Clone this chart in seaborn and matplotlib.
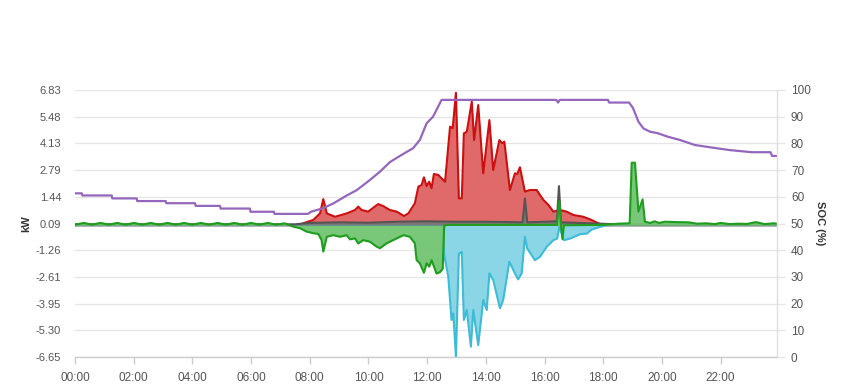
import matplotlib
matplotlib.use("Agg")
import matplotlib.pyplot as plt
import seaborn as sns
import pandas as pd

# ---------------- data (hours of day, kW / %) ----------------
soc_t = [0.0, 0.23, 0.25, 1.25, 1.27, 2.1, 2.12, 3.09, 3.11, 4.09, 4.11, 4.94, 4.96,
         5.96, 5.98, 6.78, 6.8, 7.94, 8.04, 8.45, 8.8, 9.26, 9.6, 10.05, 10.4, 10.73,
         11.1, 11.52, 11.75, 11.98, 12.2, 12.49, 16.4, 16.46, 16.52, 18.16, 18.2,
         18.88, 19.01, 19.2, 19.37, 19.59, 19.86, 20.2, 20.61, 21.12, 21.73, 22.31,
         23.06, 23.7, 23.75, 23.92]
soc_v = [61.3, 61.3, 60.5, 60.5, 59.4, 59.4, 58.4, 58.4, 57.6, 57.6, 56.6, 56.6, 55.6,
         55.6, 54.4, 54.4, 53.6, 53.6, 54.4, 55.7, 57.5, 60.5, 62.5, 66.3, 69.5, 73.0,
         75.5, 78.2, 81.3, 87.5, 90.0, 96.3, 96.3, 95.3, 96.3, 96.3, 95.3,
         95.3, 93.3, 88.1, 85.6, 84.4, 83.8, 82.5, 81.3, 79.4, 78.4, 77.5,
         76.7, 76.7, 75.3, 75.3]

red_t = [0.0, 7.5, 7.67, 8.12, 8.35, 8.46, 8.58, 8.86, 9.26, 9.54, 9.65, 9.77, 9.99,
         10.33, 10.5, 10.73, 10.96, 11.21, 11.36, 11.58, 11.7, 11.81, 11.89, 11.98,
         12.07, 12.15, 12.23, 12.38, 12.49, 12.61, 12.78, 12.87, 12.98, 13.08, 13.18,
         13.25, 13.35, 13.52, 13.6, 13.74, 13.91, 14.12, 14.25, 14.46, 14.56, 14.63,
         14.82, 14.99, 15.07, 15.16, 15.33, 15.5, 15.73, 15.96, 16.13, 16.3, 16.52,
         16.75, 16.98, 17.32, 17.6, 17.83, 18.0, 23.92]
red_v = [0.0, 0.0, 0.05, 0.27, 0.6, 1.32, 0.6, 0.43, 0.6, 0.77, 0.94, 0.77, 0.69,
         1.07, 0.97, 0.77, 0.69, 0.47, 0.6, 1.11, 1.95, 2.03, 2.42, 1.98,
         2.2, 1.87, 2.59, 2.54, 2.37, 2.2, 4.98, 4.9, 6.69, 1.36, 1.36,
         4.64, 4.72, 6.24, 4.3, 6.07, 2.62, 5.31, 2.79, 4.3, 4.14, 4.22,
         1.78, 2.62, 2.59, 2.93, 1.7, 1.78, 1.78, 1.28, 1.03, 0.69, 0.77,
         0.69, 0.52, 0.43, 0.27, 0.1, 0.0, 0.0]

gray_t = [0.0, 7.5, 8.0, 9.0, 10.0, 11.0, 12.0, 13.0, 14.0, 15.25, 15.33, 15.41,
          16.42, 16.49, 16.56, 17.5, 18.5, 23.92]
gray_v = [0.05, 0.05, 0.12, 0.15, 0.13, 0.18, 0.2, 0.18, 0.18, 0.15, 1.36, 0.15,
          0.2, 1.98, 0.15, 0.1, 0.05, 0.05]

cyan_t = [0.0, 12.5, 12.55, 12.57, 12.72, 12.83, 12.89, 12.98, 13.08, 13.18, 13.25,
          13.35, 13.49, 13.57, 13.74, 13.91, 14.03, 14.12, 14.25, 14.48, 14.59, 14.8,
          14.99, 15.1, 15.22, 15.33, 15.41, 15.67, 15.84, 16.07, 16.3, 16.43, 16.5,
          16.66, 16.87, 17.21, 17.44, 17.6, 17.89, 18.12, 23.92]
cyan_v = [0.0, 0.0, -0.25, -1.42, -2.6, -4.78, -4.45, -6.64, -1.43, -1.35, -4.78,
          -4.28, -6.13, -4.28, -6.05, -3.77, -4.28, -2.43, -2.76, -4.19, -3.77, -1.84,
          -2.43, -2.73, -2.43, -0.58, -1.17, -1.76, -1.6, -1.09, -0.75, -0.67, -0.08,
          -0.75, -0.67, -0.45, -0.42, -0.22, -0.08, 0.0, 0.0]

green_t = [0.0, 0.3, 0.58, 0.87, 1.15, 1.44, 1.72, 2.01, 2.29, 2.58, 2.86, 3.15, 3.43,
           3.72, 4.0, 4.29, 4.57, 4.86, 5.14, 5.43, 5.71, 6.0, 6.28, 6.57, 6.85, 7.14,
           7.44, 7.67, 7.89, 8.12, 8.29, 8.4, 8.46, 8.58, 8.8, 9.03, 9.26, 9.37, 9.54,
           9.65, 9.82, 10.05, 10.28, 10.39, 10.62, 10.84, 11.19, 11.41, 11.58, 11.64,
           11.75, 11.89, 11.98, 12.07, 12.15, 12.32, 12.44, 12.53, 12.58, 12.7, 16.42,
           16.5, 16.56, 16.61, 16.66, 18.0, 18.5, 18.9, 18.97, 19.08, 19.2, 19.34,
           19.42, 19.6, 19.75, 19.9, 20.1, 20.5, 20.9, 21.2, 21.5, 21.8, 22.0, 22.3,
           22.6, 22.9, 23.2, 23.5, 23.8, 23.92]
green_v = [0.03, 0.12, 0.03, 0.12, 0.03, 0.12, 0.03, 0.12, 0.03, 0.12, 0.03, 0.12, 0.03,
           0.12, 0.03, 0.12, 0.03, 0.12, 0.03, 0.12, 0.03, 0.12, 0.03, 0.12, 0.03, 0.1,
           -0.07, -0.15, -0.32, -0.4, -0.44, -0.74, -1.33, -0.58, -0.5, -0.58, -0.5, -0.71, -0.66,
           -0.92, -0.75, -0.83, -1.08, -1.16, -0.91, -0.75, -0.5, -0.58, -0.91, -1.76,
           -1.92, -2.4, -1.92, -2.09, -1.76, -2.44, -2.36, -2.19, -0.02, 0.02, 0.02,
           1.22, 0.0, -0.7, 0.0, 0.02, 0.08, 0.1, 3.16, 3.16, 0.69, 1.31,
           0.18, 0.12, 0.2, 0.12, 0.18, 0.16, 0.15, 0.08, 0.1, 0.06, 0.12, 0.06,
           0.08, 0.07, 0.16, 0.06, 0.1, 0.08]

kw_ticks = [-6.65, -5.30, -3.95, -2.61, -1.26, 0.09, 1.44, 2.79, 4.13, 5.48, 6.83]
soc_ticks = [0, 10, 20, 30, 40, 50, 60, 70, 80, 90, 100]
hour_ticks = [0, 2, 4, 6, 8, 10, 12, 14, 16, 18, 20, 22]
hour_labels = ["00:00", "02:00", "04:00", "06:00", "08:00", "10:00", "12:00",
               "14:00", "16:00", "18:00", "20:00", "22:00"]

# ---------------- styling ----------------
sns.set_theme(style="white")
plt.rcParams["font.family"] = ["Liberation Sans", "DejaVu Sans"]

RED, RED_F = "#cc0f0f", "#e06a6a"
GRAY, GRAY_F = "#555555", "#777777"
CYAN, CYAN_F = "#3dbcd6", "#8bd6e6"
GREEN, GREEN_F = "#1f9d1f", "#72c472"
PURPLE = "#9467bd"
TXT = "#555555"

fig = plt.figure(figsize=(8.49, 3.90), dpi=100)
ax = fig.add_axes([75 / 849, 1 - 357 / 390, (777 - 75) / 849, (357 - 90) / 390])

def area(t, v, line, fill, alpha, z):
    df = pd.DataFrame({"t": t, "v": v})
    ax.fill_between(df["t"], 0, df["v"], color=fill, alpha=alpha, lw=0, zorder=z)
    sns.lineplot(data=df, x="t", y="v", ax=ax, color=line, lw=1.5,
                 estimator=None, sort=False, zorder=z + 0.5)

area(red_t, red_v, RED, RED_F, 1.0, 2)
area(cyan_t, cyan_v, CYAN, CYAN_F, 1.0, 3)
area(gray_t, gray_v, GRAY, GRAY_F, 0.9, 4)
area(green_t, green_v, GREEN, GREEN_F, 0.95, 5)

ax.set_xlim(0, 23.92)
ax.set_ylim(-6.65, 6.83)
ax.set_yticks(kw_ticks)
ax.set_yticklabels([f"{v:.2f}" for v in kw_ticks])
ax.set_xticks(hour_ticks)
ax.set_xticklabels(hour_labels)
ax.grid(axis="y", color="#e6e6e6", lw=1, zorder=0)
ax.grid(axis="x", visible=False)
for s in ["left", "top", "right"]:
    ax.spines[s].set_visible(False)
ax.spines["bottom"].set_color("#cccccc")
ax.spines["bottom"].set_linewidth(1)
ax.tick_params(axis="y", length=0, pad=10, labelsize=8, labelcolor=TXT)
ax.tick_params(axis="x", length=5, width=1, color="#cccccc", pad=6,
               labelsize=8.5, labelcolor=TXT, direction="out", bottom=True)
ax.set_xlabel("")
ax.set_ylabel("kW", fontsize=8, fontweight="bold", color="#333333", labelpad=3)

ax2 = ax.twinx()
sdf = pd.DataFrame({"t": soc_t, "soc": soc_v})
sns.lineplot(data=sdf, x="t", y="soc", ax=ax2, color=PURPLE, lw=1.6,
             estimator=None, sort=False)
ax2.set_ylim(0, 100)
ax2.set_yticks(soc_ticks)
ax2.set_xlim(0, 23.92)
for s in ["left", "top", "bottom"]:
    ax2.spines[s].set_visible(False)
ax2.spines["right"].set_color("#e0e0e0")
ax2.spines["right"].set_linewidth(1)
ax2.tick_params(axis="y", length=6, width=1, color="#e6e6e6", pad=4,
                labelsize=8.5, labelcolor=TXT, right=True)
ax2.set_xlabel("")
ax2.set_ylabel("SOC (%)", fontsize=8, fontweight="bold", color="#333333",
               rotation=270, labelpad=10)
ax2.grid(False)

fig.savefig("out.png", dpi=100)
